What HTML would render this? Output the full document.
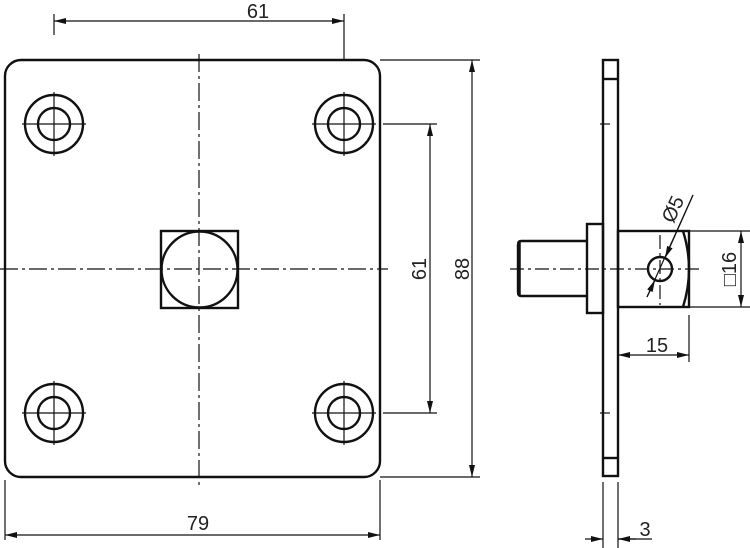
<!DOCTYPE html>
<html><head><style>
html,body{margin:0;padding:0;background:#fff;width:750px;height:548px;overflow:hidden}
svg{display:block}
text{font-family:"Liberation Sans",sans-serif;fill:#222}
</style></head><body>
<svg width="750" height="548" viewBox="0 0 750 548" xmlns="http://www.w3.org/2000/svg">
<defs>
<marker id="a" viewBox="0 0 12 6" refX="12" refY="3" markerWidth="12" markerHeight="6" orient="auto-start-reverse" markerUnits="userSpaceOnUse"><path d="M0,0 L12,3 L0,6 z" fill="#111"/></marker>
</defs>
<g fill="none" stroke="#111" stroke-width="2.4">
<rect x="5" y="60" width="375" height="417" rx="16" ry="16"/>
<g>
<circle cx="54" cy="124" r="29"/><circle cx="54" cy="124" r="16"/>
<circle cx="344" cy="124" r="29"/><circle cx="344" cy="124" r="16"/>
<circle cx="54" cy="413" r="29"/><circle cx="54" cy="413" r="16"/>
<circle cx="344" cy="413" r="29"/><circle cx="344" cy="413" r="16"/>
</g>
<rect x="161" y="231" width="77" height="77"/>
<circle cx="199.5" cy="269.5" r="38"/>
<rect x="603" y="60" width="15" height="416"/>
<line x1="603" y1="79" x2="618" y2="79"/>
<line x1="603" y1="458" x2="618" y2="458"/>
<rect x="587" y="224" width="16" height="89"/>
<path d="M587,241 L521,241 Q518,241 518,245 L518,292 Q518,296 521,296 L587,296"/>
<line x1="519" y1="242" x2="519" y2="295" stroke-width="3.5"/>
<rect x="618" y="231" width="71" height="76"/>
<path d="M683,231 Q695,269 683,307"/>
<circle cx="660" cy="269" r="12"/>
</g>
<g fill="none" stroke="#111" stroke-width="1.2">
<path d="M22,124H86M54,92V156M312,124H376M344,92V156M22,413H86M54,381V445M312,413H376M344,381V445"/>
<path d="M199,54V488M0,269H388" stroke-dasharray="18,4,3,4"/>
<path d="M510,269H700M660,235V305" stroke-dasharray="14,4,3,4"/>
<line x1="600" y1="124" x2="610" y2="124"/>
<line x1="600" y1="413" x2="610" y2="413"/>
<path d="M54,14V35M344,14V60M380,60H480M383,124H437M383,413H437M380,477H480M5,480V540M380,480V540"/>
<path d="M603,482V548M618,482V548M689,231H750M689,307H750M689,315V362M618,310V362"/>
<line x1="54" y1="21" x2="344" y2="21" marker-start="url(#a)" marker-end="url(#a)"/>
<line x1="430" y1="124" x2="430" y2="413" marker-start="url(#a)" marker-end="url(#a)"/>
<line x1="472" y1="60" x2="472" y2="477" marker-start="url(#a)" marker-end="url(#a)"/>
<line x1="5" y1="535" x2="380" y2="535" marker-start="url(#a)" marker-end="url(#a)"/>
<line x1="741" y1="231" x2="741" y2="307" marker-start="url(#a)" marker-end="url(#a)"/>
<line x1="618" y1="355" x2="689" y2="355" marker-start="url(#a)" marker-end="url(#a)"/>
<line x1="585" y1="539" x2="603" y2="539" marker-end="url(#a)"/>
<line x1="636" y1="539" x2="618" y2="539" marker-end="url(#a)"/>
<line x1="618" y1="539" x2="652" y2="539"/>
<line x1="647" y1="297" x2="693" y2="195"/>
<line x1="647" y1="297" x2="655" y2="280" marker-end="url(#a)"/>
<line x1="693" y1="195" x2="665" y2="258" marker-end="url(#a)"/>
</g>
<g font-size="20">
<text x="258" y="18" text-anchor="middle">61</text>
<text x="198" y="530" text-anchor="middle">79</text>
<text x="657" y="352" text-anchor="middle">15</text>
<text x="645" y="536" text-anchor="middle">3</text>
<text transform="translate(426,269) rotate(-90)" text-anchor="middle">61</text>
<text transform="translate(469,269) rotate(-90)" text-anchor="middle">88</text>
<text transform="translate(736,269) rotate(-90)" text-anchor="middle">□16</text>
<text transform="translate(679,212) rotate(-65)" text-anchor="middle">Ø5</text>
</g>
</svg>
</body></html>
